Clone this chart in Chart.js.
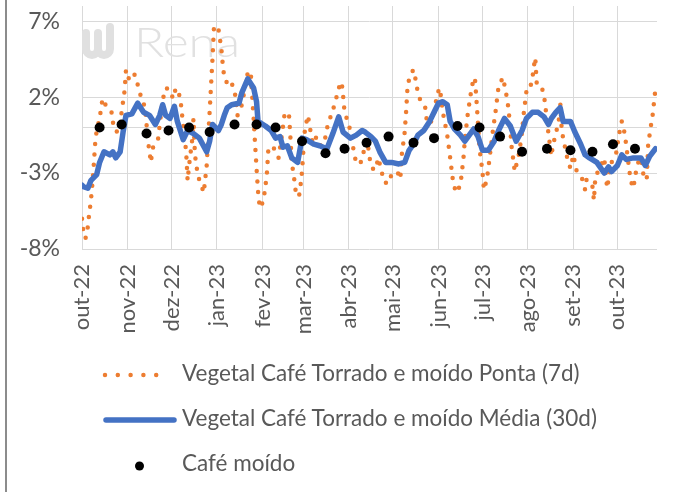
<!DOCTYPE html>
<html>
<head>
<meta charset="utf-8">
<script src="https://cdn.jsdelivr.net/npm/chart.js@4.4.1/dist/chart.umd.min.js"></script>
<style>
    html, body { margin: 0; padding: 0; background: #fff; }
    #wrap   { position: relative; width: 674px; height: 492px; overflow: hidden; }
    #frame  { position: absolute; left: 5px; top: 0; width: 2px; height: 492px; background: #8c8c8c; }
    #chart  { position: absolute; left: 0; top: 0; }
    #legend { position: absolute; left: 0; top: 0; }
</style>
</head>
<body>
<div id="wrap">
    <canvas id="chart" width="674" height="340"></canvas>
    <svg id="legend" width="674" height="492"></svg>
    <div id="frame"></div>
</div>
<script>
// =========================================================
// Data (x = days since 01/10/2022, y = %)
// =========================================================

const seriesNames = [
    'Vegetal Café Torrado e moído Ponta (7d)',
    'Vegetal Café Torrado e moído Média (30d)',
    'Café moído',
];

const monthDays   = [0, 31, 61, 92, 123, 151, 182, 212, 243, 273, 304, 335, 365];
const monthLabels = ['out-22', 'nov-22', 'dez-22', 'jan-23', 'fev-23', 'mar-23', 'abr-23',
                     'mai-23', 'jun-23', 'jul-23', 'ago-23', 'set-23', 'out-23'];
const yTicks      = [-8, -3, 2, 7];

const pontaDays = [
    0, 1, 2, 3, 4, 5, 6, 7, 8, 9, 10, 12, 14, 17, 20, 21, 22, 25, 27, 28, 29, 30, 32, 35, 37, 38,
    40, 43, 44, 45, 46, 47, 48, 52, 53, 55, 57, 60, 62, 64, 67, 68, 69, 70, 71, 72, 73, 75, 76, 77,
    79, 81, 83, 85, 86, 87, 88, 89, 90, 93, 95, 96, 97, 100, 102, 104, 106, 109, 113, 115, 116, 117,
    118, 119, 120, 121, 122, 124, 125, 126, 127, 130, 134, 136, 138, 141, 142, 143, 145, 146, 148,
    149, 150, 151, 152, 154, 155, 157, 159, 161, 165, 168, 170, 173, 175, 177, 178, 179, 182, 184,
    187, 190, 192, 195, 196, 198, 200, 202, 206, 209, 211, 215, 217, 218, 220, 221, 222, 224, 226,
    228, 229, 232, 234, 235, 237, 240, 242, 244, 246, 249, 251, 252, 253, 255, 258, 259, 260, 261,
    263, 265, 267, 268, 269, 270, 271, 273, 274, 276, 277, 278, 280, 282, 284, 287, 290, 291, 293,
    294, 295, 298, 300, 301, 302, 303, 305, 307, 308, 309, 310, 313, 315, 316, 318, 320, 321, 323,
    325, 326, 327, 328, 331, 333, 335, 337, 341, 343, 344, 348, 349, 350, 353, 356, 358, 360, 361,
    364, 366, 368, 370, 373, 374, 376, 377, 380, 382, 383, 385, 386, 388, 389, 390, 391,
];
const pontaValues = [
    -6.0, -6.9, -7.3, -7.2, -6.5, -5.6, -4.9, -3.8, -2.5, -1.0, -0.2, 0.6, 1.9, 1.3, 1.1, 0.4, -0.2, -0.3, 1.0, 1.7, 2.4, 3.8, 3.2, 3.6, 3.3, 2.8,
    2.1, 1.3, 0.2, -0.9, -1.6, -2.3, -1.4, -0.7, 0.2, 1.8, 2.6, 2.5, 1.9, 2.6, 2.0, 1.0, 0.2, -0.7, -1.6, -3.5, -2.5, -0.9, 0.6, -1.8,
    -3.2, -3.7, -4.3, -2.5, -0.7, 1.0, 2.8, 4.6, 6.7, 6.5, 5.2, 4.1, 3.3, 2.7, 2.9, 2.5, 0.8, 1.5, 3.6, 3.7, 2.1, 0.6,
    -1.1, -2.7, -4.2, -5.1, -5.3, -4.6, -3.9, -3.1, -1.5, -1.2, -2.0, -0.7, 0.8, 1.0, -0.5, -2.3, -3.6, -4.5, -4.5,
    -3.8, -2.9, -1.4, -0.1, 0.8, 0.2, -0.9, -0.5, -1.2, -1.1, 0.4, 0.8, 1.8, 2.6, 3.0, 2.1, 1.0, 0.2, -0.9,
    -2.4, -2.3, -1.6, -1.2, -2.0, -2.7, -2.8, -2.0, -3.6, -3.7, -3.1, -2.9, -3.4, -1.8, -0.3, 1.1, 2.8, 3.5, 3.8,
    2.9, 2.2, 1.5, 1.3, 0.5, 0.2, 0.8, 2.2, 2.6, 1.0, -0.5, -2.0, -2.8, -3.6, -4.3, -3.8, -2.9, -2.1, -0.8,
    0.9, 2.2, 3.3, 3.1, 1.7, 0.2, -1.4, -2.9, -4.1, -3.4, -2.7, -1.9, -0.3, 1.1, 2.7, 3.3, 1.8, 1.0, -1.4,
    -2.1, -2.9, -1.7, -0.3, 0.8, 1.6, 2.4, 2.4, 3.2, 4.0, 4.6, 2.9, 2.8, 2.1, 1.3, -0.4, -1.9, -1.2, -0.4,
    0.4, 1.7, -0.1, -0.7, -2.1, -2.7, -1.8, -2.8, -3.4, -4.1, -3.4, -3.9, -4.8, -3.2, -2.7, -2.0, -4.0, -2.8, -2.3,
    -1.8, -0.5, 0.4, -0.4, -2.7, -3.5, -4.0, -3.2, -2.0, -2.4, -3.4, -3.4, -1.1, 0.2, 0.8, 1.7, 2.6,
];

const mediaDays = [
    0, 1, 4, 6, 10, 12, 15, 19, 21, 23, 26, 28, 30, 34, 38, 42, 46, 50, 53, 55, 57, 60, 63, 65, 69,
    72, 76, 80, 85, 87, 89, 93, 95, 97, 99, 102, 107, 109, 113, 117, 119, 120, 125, 129, 132, 135,
    137, 140, 143, 147, 150, 153, 158, 162, 167, 171, 175, 178, 183, 187, 191, 193, 197, 200, 203,
    207, 211, 216, 220, 223, 226, 229, 233, 237, 240, 243, 246, 249, 251, 254, 258, 261, 264, 267,
    270, 273, 277, 281, 284, 288, 292, 296, 300, 303, 307, 311, 315, 318, 320, 323, 326, 328, 333,
    336, 340, 343, 346, 351, 356, 359, 361, 365, 368, 371, 376, 381, 384, 387, 391,
];
const mediaValues = [
    -3.8, -3.9, -4.0, -3.5, -3.1, -2.3, -1.6, -1.8, -1.6, -2.0, -1.6, -0.3, 0.8, 0.9, 1.6, 1.0, 0.8, 0.2, 0.8, 1.5, 0.8, 0.6, 1.4, 0.4, -0.8,
    -0.2, -0.4, -0.7, -1.6, -0.9, 0.2, -0.2, 0.2, 0.8, 1.3, 1.5, 1.6, 2.3, 3.2, 2.6, 1.7, 0.4, 0.1, -0.2, -0.7, -0.6,
    -1.3, -1.2, -2.0, -2.3, -0.7, -0.8, -1.1, -1.2, -1.4, -0.4, 0.7, -0.3, -0.7, -0.5, -0.2, -0.3, -0.6, -0.9, -1.6,
    -2.3, -2.3, -2.4, -2.3, -1.5, -1.1, -0.5, -0.2, 0.4, 1.0, 1.6, 1.7, 1.5, 0.4, -0.1, -0.5, -0.9, -0.5, -0.1,
    -0.6, -1.5, -1.5, -0.9, -0.2, 0.6, 0.1, -0.9, -0.2, 0.6, 1.0, 1.0, 0.7, 0.2, 0.6, 1.0, 1.3, 0.4, 0.4,
    -0.3, -1.1, -1.8, -2.0, -2.3, -3.0, -2.6, -2.9, -2.5, -1.8, -2.1, -2.0, -2.0, -2.5, -1.9, -1.4,
];

const moidoDays   = [12, 27, 44, 59, 73, 87, 104, 119, 132, 150, 166, 179, 194, 209, 226, 240,
                     256, 271, 285, 300, 317, 333, 348, 362, 377];
const moidoValues = [0.0, 0.2, -0.4, -0.2, 0.0, -0.3, 0.2, 0.2, 0.0, -0.9, -1.7, -1.4, -1.0, -0.6, -1.0, -0.7,
                     0.1, 0.0, -0.6, -1.6, -1.4, -1.5, -1.6, -1.1, -1.4];

// =========================================================
// Styles
// =========================================================

const ORANGE = '#ED7D31';
const BLUE   = '#4472C4';
const GRID   = '#d9d9d9';
const TEXT   = '#595959';
const FONT   = 'Lato';

const toXY = (days, vals) => days.map((d, i) => ({ x: d, y: vals[i] }));

// faint "Rena" logo behind the series
const watermark = {
    id: 'watermark',
    beforeDatasetsDraw(chart) {
        const c = chart.ctx;
        c.save();
        c.strokeStyle = '#e0e0e0';
        c.lineWidth = 8;
        c.lineCap = 'round';
        c.beginPath();
        c.moveTo(86, 33);  c.lineTo(86, 49);
        c.arc(92, 49, 6, Math.PI, 0, true);
        c.lineTo(98, 33);  c.moveTo(98, 49);
        c.arc(104, 49, 6, Math.PI, 0, true);
        c.lineTo(110, 27);
        c.stroke();

        c.fillStyle = '#e1e1e1';
        c.font = `300 42px ${FONT}`;
        const w = c.measureText('Rena').width;
        c.translate(134, 57);
        c.scale(106 / w, 1);
        c.fillText('Rena', 0, 0);
        c.restore();
    }
};

// =========================================================
// Chart
// =========================================================

new Chart(document.getElementById('chart'), {
    type: 'line',
    data: {
        datasets: [
            {
                label: seriesNames[2], data: toXY(moidoDays, moidoValues),
                showLine: false, pointRadius: 5, pointBorderWidth: 0,
                pointBackgroundColor: '#000', order: 0,
            },
            {
                label: seriesNames[1], data: toXY(mediaDays, mediaValues),
                borderColor: BLUE, borderWidth: 5.5, pointRadius: 0,
                borderJoinStyle: 'round', borderCapStyle: 'round', order: 1,
            },
            {
                label: seriesNames[0], data: toXY(pontaDays, pontaValues),
                borderColor: ORANGE, borderWidth: 4.5, borderDash: [0, 10.5],
                borderCapStyle: 'round', pointRadius: 0, order: 2,
            },
        ],
    },
    options: {
        responsive: false,
        animation: false,
        layout: { padding: { top: 6, right: 17, left: 0, bottom: 0 } },
        plugins: { legend: { display: false }, tooltip: { enabled: false } },
        scales: {
            x: {
                type: 'linear', min: 0, max: 392,
                grid: { color: GRID, drawTicks: false },
                border: { display: false },
                afterBuildTicks: s => { s.ticks = monthDays.map(v => ({ value: v })); },
                afterFit: s => { s.height = 91; s.paddingLeft = 0; s.paddingRight = 0; },
                ticks: {
                    minRotation: 90, maxRotation: 90, autoSkip: false, padding: 15,
                    color: TEXT, font: { family: FONT, size: 22 },
                    callback: (v, i) => monthLabels[i],
                },
            },
            y: {
                min: -8, max: 8,
                grid: { color: GRID, drawTicks: false },
                border: { display: false },
                afterBuildTicks: s => {
                    s.ticks = [...yTicks, 0].sort((a, b) => a - b).map(v => ({ value: v }));
                },
                afterFit: s => { s.width = 82; s.paddingTop = 0; s.paddingBottom = 0; },
                ticks: {
                    padding: 22, color: TEXT, font: { family: FONT, size: 23 },
                    callback: v => yTicks.includes(v) ? v + '%' : '',
                },
            },
        },
    },
    plugins: [watermark],
});

// =========================================================
// Legend (vertical list, text left-aligned)
// =========================================================

const legendSamples = [
    `<line x1="105" y1="375" x2="169" y2="375" stroke="${ORANGE}" stroke-width="4.5"
           stroke-linecap="round" stroke-dasharray="0 12.8"/>`,
    `<line x1="106" y1="420" x2="174" y2="420" stroke="${BLUE}" stroke-width="5.5"
           stroke-linecap="round"/>`,
    `<circle cx="139.5" cy="466" r="4.5" fill="#000"/>`,
];
const legendBaselines = [381, 426, 471];

document.getElementById('legend').innerHTML = seriesNames.map((name, i) =>
    legendSamples[i] +
    `<text x="182" y="${legendBaselines[i]}" fill="${TEXT}" font-family="${FONT}" font-size="22.5">${name}</text>`
).join('');
</script>
</body>
</html>
